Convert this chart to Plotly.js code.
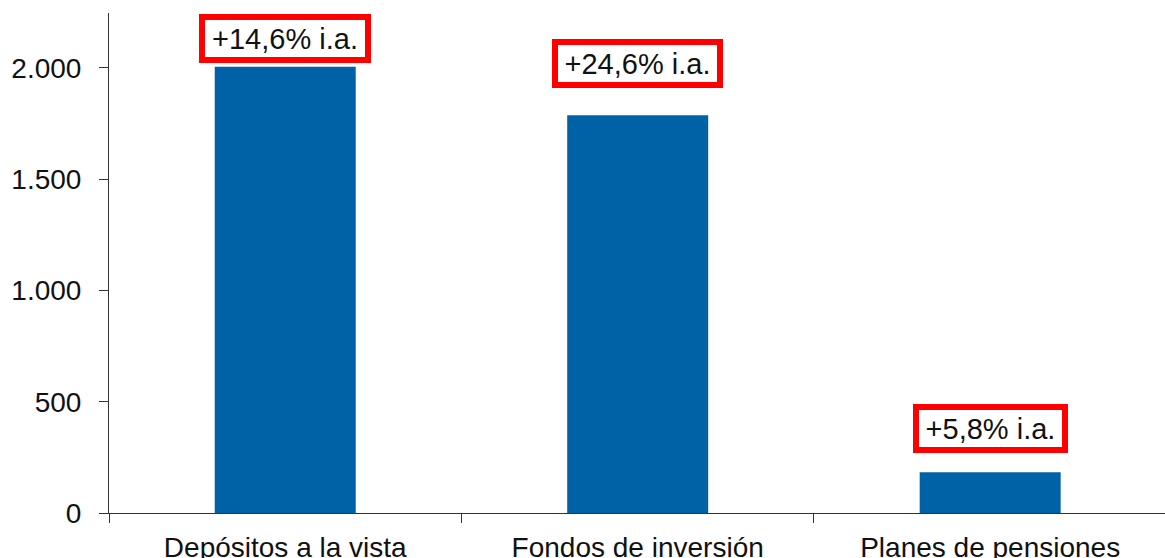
<!DOCTYPE html>
<html>
<head>
<meta charset="utf-8">
<script src="https://cdn.plot.ly/plotly-3.0.1.min.js"></script>
<style>
  html, body { margin: 0; padding: 0; background: #ffffff; }
  #chart { width: 1165px; height: 558px; }
</style>
</head>
<body>
<div id="chart"></div>
<script>
// ---- data ----
var categories = ["Depósitos a la vista", "Fondos de inversión", "Planes de pensiones"];
var values = [2005, 1787, 183];
var growthLabels = ["+14,6% i.a.", "+24,6% i.a.", "+5,8% i.a."];
var yTickValues = [0, 500, 1000, 1500, 2000];

// ---- style (not data) ----
var labelGap = [4, 27, 19];
var boxWidths = [158, 157, 141];
var FONT = "Liberation Sans, Arial, sans-serif";

var trace = {
  type: "bar",
  x: categories,
  y: values,
  width: 0.4,
  marker: { color: "#0062A6", line: { width: 0 } },
  hoverinfo: "none"
};

var annotations = categories.map(function (c, i) {
  return {
    x: c,
    y: values[i],
    xref: "x",
    yref: "y",
    text: growthLabels[i],
    showarrow: false,
    xanchor: "center",
    yanchor: "bottom",
    yshift: labelGap[i],
    font: { family: FONT, size: 29, color: "#111111" },
    bgcolor: "#ffffff",
    bordercolor: "#ff0000",
    borderwidth: 6,
    borderpad: 1,
    width: boxWidths[i],
    height: 35
  };
});

var layout = {
  width: 1165,
  height: 558,
  margin: { l: 109, r: 0, t: 13, b: 45 },
  paper_bgcolor: "#ffffff",
  plot_bgcolor: "#ffffff",
  separators: ",.",
  showlegend: false,
  font: { family: FONT, size: 28, color: "#111111" },
  xaxis: {
    type: "category",
    range: [-0.5, 2.496],
    showline: true,
    linecolor: "#333333",
    linewidth: 1,
    ticks: "outside",
    tickson: "boundaries",
    ticklen: 9,
    tickcolor: "#333333",
    tickwidth: 1,
    showgrid: false,
    zeroline: false,
    ticklabelstandoff: 9,
    tickfont: { family: FONT, size: 28, color: "#111111" }
  },
  yaxis: {
    range: [0, 2246],
    tickvals: yTickValues,
    tickformat: ",d",
    showline: true,
    linecolor: "#333333",
    linewidth: 1,
    ticks: "outside",
    ticklen: 9,
    tickcolor: "#333333",
    tickwidth: 1,
    showgrid: false,
    zeroline: false,
    ticklabelstandoff: 12,
    tickfont: { family: FONT, size: 28, color: "#111111" }
  },
  annotations: annotations
};

Plotly.newPlot("chart", [trace], layout, { displayModeBar: false, staticPlot: true });
</script>
</body>
</html>
